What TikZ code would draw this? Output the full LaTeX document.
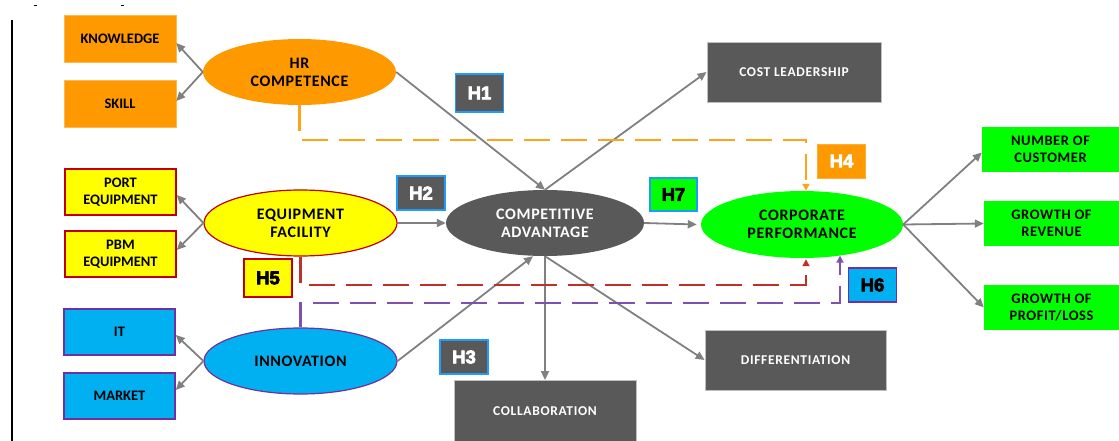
\documentclass[tikz,border=0pt]{standalone}
\usepackage{fontspec}
\setmainfont{Carlito}
\newfontfamily\elfont[LetterSpace=4]{Carlito}
\newfontfamily\grfont[LetterSpace=5]{Carlito}
\newfontfamily\hfont[FakeBold=4]{Liberation Sans Bold}
\usetikzlibrary{shapes.geometric,arrows.meta,calc}
\definecolor{orng}{HTML}{FF9900}
\definecolor{ylw}{HTML}{FFFF00}
\definecolor{dred}{HTML}{C00000}
\definecolor{cyanb}{HTML}{00B0F0}
\definecolor{purp}{HTML}{7030A0}
\definecolor{dgrey}{HTML}{595959}
\definecolor{grn}{HTML}{00FF00}
\definecolor{arrg}{HTML}{808080}
\definecolor{hblue}{HTML}{1E9BFF}
\definecolor{dorng}{HTML}{FFA31A}
\definecolor{dashred}{HTML}{C0302A}
\definecolor{dashpurp}{HTML}{8050B0}
\tikzset{
  bx/.style 2 args={rectangle, inner sep=0pt, align=center, minimum width=#1pt, minimum height=#2pt},
  el/.style 2 args={ellipse, inner sep=0pt, align=center, minimum width=#1pt, minimum height=#2pt},
  txt/.style={font=\fontsize{14.5}{16.5}\selectfont\bfseries},
  etxt/.style={font=\elfont\fontsize{16}{18}\selectfont\bfseries},
  wtxt/.style={font=\grfont\fontsize{13.5}{15}\selectfont\bfseries, text=white},
  hyp/.style={rectangle, inner sep=0pt, minimum width=48pt, minimum height=34pt, font=\hfont\fontsize{18.5}{19}\selectfont, line width=1.5pt},
  obox/.style={fill=orng, draw=orng!70, line width=0.6pt, txt},
  ybox/.style={fill=ylw, draw=dred, line width=1.5pt, txt},
  bbox/.style={fill=cyanb, draw=purp, line width=1.5pt, txt},
  gbox/.style={fill=dgrey, draw=black!25, line width=0.8pt, wtxt},
  nbox/.style={fill=grn, font=\elfont\fontsize{14.5}{16.5}\selectfont\bfseries},
  arr/.style={draw=arrg, line width=1.8pt, -{Triangle[length=9pt,width=8pt]}},
  dsh/.style={line width=2.4pt, dash pattern=on 26pt off 11pt, -{Triangle[length=7pt,width=7pt]}}
}
\begin{document}
\begin{tikzpicture}[x=1pt,y=-1pt]
\useasboundingbox (0,0) rectangle (1119,441);
% frame marks
\draw[line width=1.8pt] (12,20) -- (12,441);
\draw[line width=1pt] (34,5.5) -- (37,5.5);
\draw[line width=1pt] (121,5.5) -- (124,5.5);
% left boxes
\node[bx={112}{47}, obox] (know) at (120,38.5) {KNOWLEDGE};
\node[bx={112}{47}, obox] (skill) at (120,103.5) {SKILL};
\node[bx={111}{46}, ybox] (port) at (120.5,192) {PORT\\EQUIPMENT};
\node[bx={111}{46}, ybox] (pbm) at (120.5,254) {PBM\\EQUIPMENT};
\node[bx={111}{46}, bbox] (it) at (119.5,332) {IT};
\node[bx={111}{46}, bbox] (market) at (119.5,396) {MARKET};
% ellipses
\node[el={193}{66}, fill=orng, etxt] (hr) at (299.5,72) {HR\\COMPETENCE};
\node[el={193}{66}, fill=ylw, draw=dred, line width=1.2pt, etxt] (ef) at (300.5,223) {EQUIPMENT\\FACILITY};
\node[el={193}{66}, fill=cyanb, draw=purp, line width=1.2pt, etxt] (inn) at (300.5,361) {INNOVATION};
\node[el={198}{66}, fill=dgrey, etxt, text=white] (ca) at (545,223) {COMPETITIVE\\ADVANTAGE};
\node[el={202}{67}, fill=grn, etxt] (cp) at (802,224.5) {CORPORATE\\PERFORMANCE};
% grey boxes
\node[bx={174}{60}, gbox] (cost) at (794,72) {COST LEADERSHIP};
\node[bx={181}{60}, gbox] (diff) at (795.5,360) {DIFFERENTIATION};
\node[bx={182}{61}, gbox] (coll) at (545,411) {COLLABORATION};
% green boxes
\node[bx={137}{45}, nbox] (num) at (1050.5,149.5) {NUMBER OF\\CUSTOMER};
\node[bx={135}{45}, nbox] (rev) at (1051.5,223.5) {GROWTH OF\\REVENUE};
\node[bx={135}{45}, nbox] (prof) at (1051.5,307.5) {GROWTH OF\\PROFIT/LOSS};
% hypothesis labels
\node[hyp, minimum height=38pt, fill=dgrey, draw=hblue, text=white] (h1) at (479.5,93) {H1};
\node[hyp, fill=dgrey, draw=hblue, text=white] (h2) at (421,193) {H2};
\node[hyp, fill=dgrey, draw=hblue, text=white] (h3) at (464,357) {H3};
\node[hyp, fill=orng, draw=orng!80, line width=0.6pt, text=white] (h4) at (841.5,161) {H4};
\node[hyp, minimum height=38pt, fill=ylw, draw=dred, text=black] (h5) at (268,278) {H5};
\node[hyp, fill=cyanb, draw=purp, text=black] (h6) at (872.5,285) {H6};
\node[hyp, minimum width=47pt, minimum height=33pt, fill=grn, draw=hblue, text=black] (h7) at (673.5,194.5) {H7};
% indicator arrows
\draw[arr] (hr.west) -- ([yshift=-4.5pt]know.east);
\draw[arr] (hr.west) -- ([yshift=2.5pt]skill.east);
\draw[arr] (ef.west) -- ([yshift=-3pt]port.east);
\draw[arr] (ef.west) -- ([yshift=4pt]pbm.east);
\draw[arr] (inn.west) -- ([yshift=-3pt]it.east);
\draw[arr] (inn.west) -- ([yshift=6pt]market.east);
% structural arrows
\draw[arr] (hr.east) -- (ca.north);
\draw[arr] (ef.east) -- (ca.west);
\draw[arr] (inn.east) -- ([xshift=-12pt]ca.south);
\draw[arr] (ca.north) -- (cost.west);
\draw[arr] (ca.south) -- (coll.north);
\draw[arr] (ca.south) -- (diff.west);
\draw[arr] (ca.east) -- ([xshift=-4pt]cp.west);
\draw[arr] (cp.east) -- ([yshift=-3pt]num.west);
\draw[arr] (cp.east) -- (rev.west);
\draw[arr] (cp.east) -- (prof.west);
% moderating dashed paths
\coordinate (oc) at (806,140);
\coordinate (rc) at (806,285);
\coordinate (pc) at (840,303);
\draw[dsh, dorng] (hr.south) |- (oc) -- (oc |- cp.north);
\draw[dsh, dashred] (ef.south) |- (rc) -- ([yshift=-1pt]rc |- cp.south);
\draw[dsh, dashpurp] (inn.north) |- (pc) -- (pc |- cp.-39);
\end{tikzpicture}
\end{document}
